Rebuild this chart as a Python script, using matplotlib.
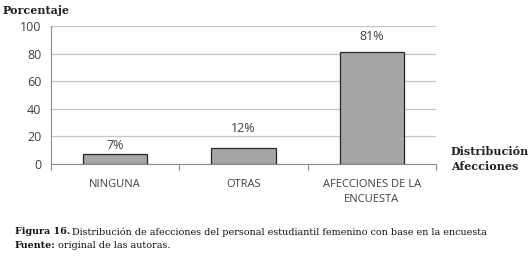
import numpy as np
import matplotlib.pyplot as plt

categorias = ["NINGUNA", "OTRAS", "AFECCIONES DE LA\nENCUESTA"]
valores = [7, 12, 81]
etiquetas = ["7%", "12%", "81%"]
yticks = [0, 20, 40, 60, 80, 100]

fig = plt.figure(figsize=(5.29, 2.56), dpi=100)
ax = fig.add_axes([0.0964, 0.359, 0.728, 0.539])

x = np.arange(len(categorias))
bars = ax.bar(x, valores, width=0.5, color="#a6a6a6", edgecolor="#262626",
              linewidth=0.9, zorder=3)
# label gaps above each bar, as in the original
gaps = [2, 9, 7]
for b, t, g in zip(bars, etiquetas, gaps):
    ax.annotate(t, (b.get_x() + b.get_width() / 2, b.get_height()),
                xytext=(0, g), textcoords="offset points",
                ha="center", va="bottom", fontsize=9, color="#404040",
                family="Open Sans")

ax.set_xlim(-0.5, len(categorias) - 0.5)
ax.set_ylim(0, 100)
ax.set_yticks(yticks)
ax.yaxis.grid(True, color="#c4c4c4", linewidth=0.9, zorder=0)
ax.set_axisbelow(True)

ax.set_xticks(x)
ax.set_xticklabels(categorias, fontsize=8, color="#404040", family="Open Sans",
                   linespacing=1.45)
ax.set_xticks(np.arange(-0.5, len(categorias)), minor=True)
ax.tick_params(axis="x", which="major", length=0, pad=11)
ax.tick_params(axis="x", which="minor", length=4, color="#8c8c8c", width=0.8)
ax.tick_params(axis="y", length=0, labelsize=9, labelcolor="#404040", pad=7)
for lbl in ax.get_yticklabels():
    lbl.set_family("Open Sans")

for s in ["top", "right"]:
    ax.spines[s].set_visible(False)
for s in ["left", "bottom"]:
    ax.spines[s].set_color("#8c8c8c")
    ax.spines[s].set_linewidth(0.8)

serif = "DejaVu Serif"
fig.text(3 / 529, 1 - 10 / 256, "Porcentaje", fontsize=8, fontweight="bold",
         family=serif, color="#222222", va="center")
fig.text(451 / 529, 1 - 159 / 256, "Distribución\nAfecciones", fontsize=8,
         fontweight="bold", family=serif, color="#222222", va="center",
         linespacing=1.45)

fig.canvas.draw()
renderer = fig.canvas.get_renderer()


def caption(y, bold, rest):
    t = fig.text(15 / 529, 1 - y / 256, bold, fontsize=6.95, fontweight="bold",
                 family=serif, color="#111111", va="center")
    x1 = t.get_window_extent(renderer).x1
    fig.text((x1 + 2) / 529, 1 - y / 256, rest, fontsize=6.95, family=serif,
             color="#111111", va="center")


caption(232, "Figura 16.",
        "Distribución de afecciones del personal estudiantil femenino con base en la encuesta")
caption(245, "Fuente:", "original de las autoras.")

fig.savefig("out.png", dpi=100)
